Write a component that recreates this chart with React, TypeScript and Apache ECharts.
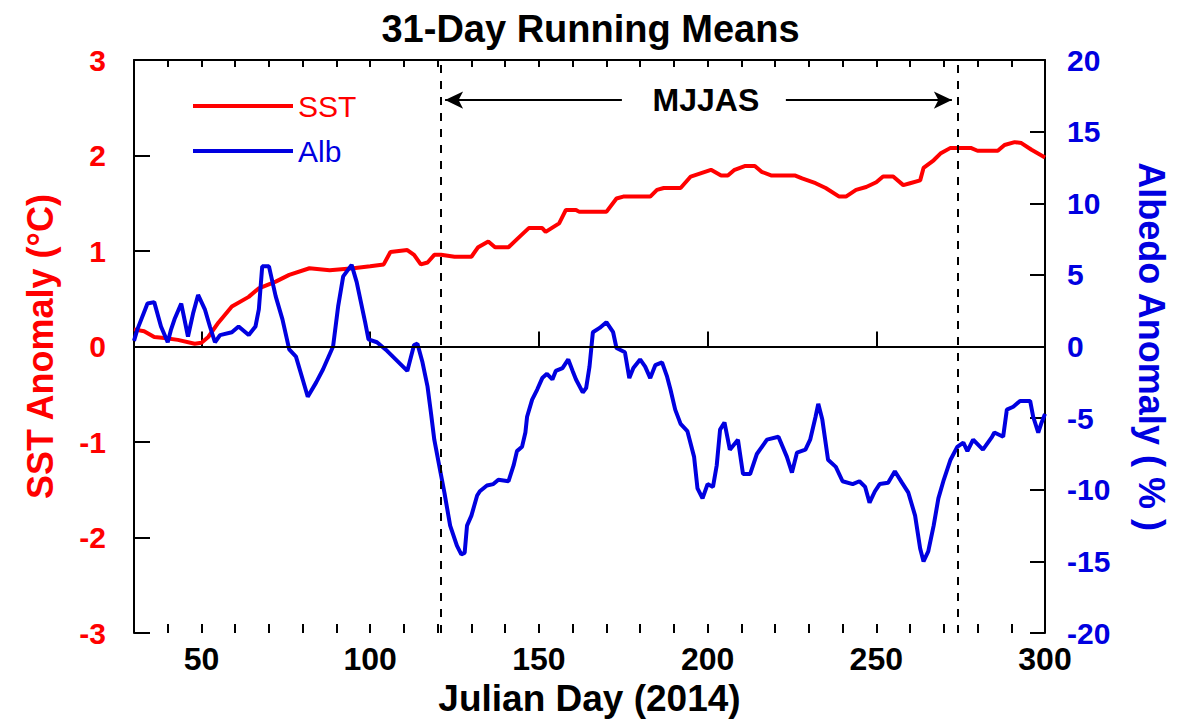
import React, { useEffect, useRef } from "react";
import * as echarts from "echarts";

const chartTitle = "31-Day Running Means";
const xTitle = "Julian Day (2014)";
const leftTitle = "SST Anomaly (°C)";
const rightTitle = "Albedo Anomaly ( % )";
const seasonLabel = "MJJAS";

const dayMin = 30;
const dayMax = 300;
const majorTickStep = 50;
const minorTickStep = 10;

const seasonStartDay = 121;
const seasonEndDay = 274;

const sstDays = [30, 33, 36, 39, 43, 48, 50, 52, 55, 59, 64, 67, 72, 76, 82, 88, 95, 100, 104, 106, 111, 113, 115, 117, 119, 121, 125, 130, 132, 135, 137, 141, 144, 147, 151, 152, 156, 158, 161, 162, 170, 173, 175, 183, 185, 187, 192, 195, 201, 204, 206, 208, 211, 214, 216, 219, 226, 228, 232, 235, 239, 241, 244, 247, 250, 252, 255, 258, 260, 263, 264, 267, 269, 272, 278, 280, 286, 288, 291, 293, 296, 300];
const sstValues = [0.18, 0.16, 0.10, 0.09, 0.07, 0.03, 0.04, 0.10, 0.25, 0.42, 0.52, 0.61, 0.68, 0.75, 0.82, 0.80, 0.82, 0.84, 0.86, 0.99, 1.01, 0.96, 0.86, 0.88, 0.96, 0.96, 0.94, 0.94, 1.04, 1.10, 1.04, 1.04, 1.14, 1.24, 1.24, 1.20, 1.29, 1.43, 1.43, 1.41, 1.41, 1.55, 1.57, 1.57, 1.64, 1.66, 1.66, 1.78, 1.85, 1.79, 1.79, 1.85, 1.89, 1.89, 1.83, 1.79, 1.79, 1.76, 1.71, 1.66, 1.57, 1.57, 1.64, 1.67, 1.72, 1.78, 1.78, 1.69, 1.71, 1.74, 1.87, 1.95, 2.02, 2.08, 2.08, 2.05, 2.05, 2.11, 2.14, 2.13, 2.06, 1.98];

const albDays = [30, 31, 34, 36, 38, 40, 41, 42, 44, 46, 47.5, 49, 51, 52.5, 54, 55.5, 59, 61, 64, 66, 67, 68, 70, 72, 74, 76, 78, 80, 81.5, 84, 86, 89, 90.5, 92, 94.5, 96, 98.5, 99.5, 102, 105, 108, 111, 113, 114, 115.5, 117, 118, 119, 120.7, 122, 123.7, 125.7, 127, 128, 128.7, 130, 131.7, 132.5, 134.6, 136.5, 138, 141, 142.5, 143.5, 145, 146, 146.5, 148, 149.5, 151, 152.4, 154, 155, 157, 158.7, 160, 161, 163, 164, 165, 166, 168, 170, 172, 173, 175.5, 176.8, 178, 180, 181.5, 183, 184.5, 186.5, 188, 189, 190.4, 192, 194, 196, 197, 198.5, 200, 201.6, 202.7, 203.7, 205, 206.6, 209, 210.5, 212.6, 214.6, 217.6, 221, 223.5, 225, 226.5, 229, 230.4, 232, 232.8, 234, 235.7, 238, 240, 243, 245, 246.7, 248, 249.6, 251, 253.5, 255.5, 257.6, 259.5, 261.5, 263, 264, 265.4, 267, 268.4, 270, 272, 274, 275.8, 277, 278.7, 281.6, 284.3, 285, 287.6, 288.7, 290.6, 292.6, 295.6, 296.5, 298, 299, 300];
const albValues = [0.4, 1.2, 3.0, 3.1, 1.4, 0.3, 1.2, 1.9, 3.0, 0.7, 2.3, 3.6, 2.6, 1.4, 0.3, 0.8, 1.0, 1.4, 0.8, 1.4, 2.6, 5.6, 5.6, 3.5, 1.9, -0.2, -0.7, -2.3, -3.5, -2.5, -1.6, 0, 2.8, 4.9, 5.7, 4.5, 1.7, 0.5, 0.3, -0.3, -1.0, -1.7, 0.1, 0.2, -1.1, -2.8, -4.6, -6.5, -8.6, -10.2, -12.5, -13.9, -14.5, -14.4, -12.5, -11.8, -10.4, -10.1, -9.7, -9.6, -9.3, -9.4, -8.3, -7.3, -7.0, -6.0, -4.9, -3.7, -3.0, -2.2, -1.9, -2.3, -1.7, -1.5, -0.9, -1.7, -2.3, -3.2, -2.9, -1.4, 1.0, 1.3, 1.7, 1.0, -0.1, -0.4, -2.2, -1.5, -0.9, -1.4, -2.2, -1.3, -1.1, -2.1, -3.0, -4.4, -5.4, -5.9, -7.7, -9.9, -10.6, -9.6, -9.8, -8.3, -5.8, -5.3, -7.2, -6.5, -8.9, -8.9, -7.5, -6.5, -6.3, -7.7, -8.8, -7.4, -7.2, -6.5, -4.9, -4.0, -5.1, -7.9, -8.4, -9.4, -9.6, -9.4, -9.8, -10.9, -10.1, -9.6, -9.5, -8.7, -9.5, -10.2, -11.8, -14.1, -15.0, -14.3, -12.5, -10.6, -9.3, -7.9, -7.0, -6.7, -7.3, -6.5, -7.2, -6.3, -6.0, -6.3, -4.4, -4.2, -3.8, -3.8, -4.9, -6.0, -5.3, -4.7];

// annotation positions in data units (day, SST anomaly)
const arrowLevel = 2.58;
const leftArrowFrom = 174.6;
const leftArrowTo = 122.2;
const rightArrowFrom = 223.2;
const rightArrowTo = 272.4;
const seasonLabelDay = 199.5;

const RED = "#ff0000";
const BLUE = "#0000e0";
const FONT = "'Liberation Sans', Arial, Helvetica, sans-serif";

export default function App() {
  const ref = useRef<HTMLDivElement>(null);
  useEffect(() => {
    if (!ref.current) return;
    const chart = echarts.init(ref.current, null, { renderer: "svg" });
    const sstData = sstDays.map((d, i) => [d, sstValues[i]]);
    const albData = albDays.map((d, i) => [d, albValues[i]]);
    // category days (for tick placement only)
    const tickDays: string[] = [];
    for (let d = dayMin; d <= dayMax; d++) tickDays.push(String(d));
    const isMajor = (_i: number, v: any) => Number(v) % majorTickStep === 0;
    const isMinor = (_i: number, v: any) => Number(v) % minorTickStep === 0 && Number(v) > dayMin && Number(v) < dayMax;
    const axisLine = { show: true, lineStyle: { color: "#000", width: 2 } };
    const tickLine = { color: "#000", width: 2 };
    chart.setOption({
      animation: false,
      backgroundColor: "#fff",
      textStyle: { fontFamily: FONT },
      title: {
        text: chartTitle,
        left: "center",
        top: 5,
        textStyle: { fontFamily: FONT, fontSize: 38, fontWeight: "bold", color: "#000" },
      },
      legend: {
        orient: "vertical",
        left: 188,
        top: 86,
        itemWidth: 100,
        itemHeight: 4,
        itemGap: 15,
        icon: "rect",
        data: [
          { name: "SST", textStyle: { color: RED } },
          { name: "Alb", textStyle: { color: BLUE } },
        ],
        textStyle: { fontFamily: FONT, fontSize: 30 },
      },
      grid: { left: 134, right: 136, top: 60, bottom: 87 },
      xAxis: [
        {
          type: "value",
          min: dayMin,
          max: dayMax,
          position: "bottom",
          axisLine,
          splitLine: { show: false },
          axisTick: { show: false },
          axisLabel: { show: false },
        },
        {
          type: "category",
          data: tickDays,
          boundaryGap: false,
          position: "bottom",
          axisLine: { show: false },
          splitLine: { show: false },
          axisTick: { show: true, inside: true, length: 15, interval: isMajor, lineStyle: tickLine },
          axisLabel: {
            interval: isMajor,
            margin: 10,
            fontFamily: FONT,
            fontSize: 32,
            fontWeight: "bold",
            color: "#000",
          },
          name: xTitle,
          nameLocation: "middle",
          nameGap: 44,
          nameTextStyle: { fontFamily: FONT, fontSize: 37, fontWeight: "bold", color: "#000" },
        },
        {
          type: "category",
          data: tickDays,
          boundaryGap: false,
          position: "bottom",
          axisLine: { show: false },
          splitLine: { show: false },
          axisTick: { show: true, inside: true, length: 9, interval: isMinor, lineStyle: tickLine },
          axisLabel: { show: false },
        },
        {
          type: "category",
          data: tickDays,
          boundaryGap: false,
          position: "top",
          axisLine,
          splitLine: { show: false },
          axisTick: { show: true, inside: true, length: 7, interval: isMinor, lineStyle: tickLine },
          axisLabel: { show: false },
        },
      ],
      yAxis: [
        {
          type: "value",
          min: -3,
          max: 3,
          interval: 1,
          position: "left",
          axisLine,
          splitLine: { show: false },
          axisTick: { show: true, inside: true, length: 16, lineStyle: tickLine },
          axisLabel: { margin: 28, fontFamily: FONT, fontSize: 30, fontWeight: "bold", color: RED },
          name: leftTitle,
          nameLocation: "middle",
          nameRotate: 90,
          nameGap: 76,
          nameTextStyle: { fontFamily: FONT, fontSize: 36, fontWeight: "bold", color: RED },
        },
        {
          type: "value",
          min: -20,
          max: 20,
          interval: 5,
          position: "right",
          axisLine,
          splitLine: { show: false },
          axisTick: { show: true, inside: true, length: 15, lineStyle: tickLine },
          axisLabel: { margin: 22, fontFamily: FONT, fontSize: 30, fontWeight: "bold", color: BLUE },
          name: rightTitle,
          nameLocation: "middle",
          nameRotate: -90,
          nameGap: 88,
          nameTextStyle: { fontFamily: FONT, fontSize: 36, fontWeight: "bold", color: BLUE },
        },
      ],
      series: [
        {
          name: "SST",
          type: "line",
          xAxisIndex: 0,
          yAxisIndex: 0,
          data: sstData,
          showSymbol: false,
          symbol: "none",
          color: RED,
          lineStyle: { color: RED, width: 4 },
          z: 3,
          markLine: {
            silent: true,
            symbol: ["none", "none"],
            label: { show: false },
            data: [
              { yAxis: 0, lineStyle: { color: "#000", width: 2, type: "solid" } },
              { xAxis: seasonStartDay, lineStyle: { color: "#000", width: 2, type: [8, 8] } },
              { xAxis: seasonEndDay, lineStyle: { color: "#000", width: 2, type: [8, 8] } },
              [
                { coord: [leftArrowFrom, arrowLevel], symbol: "none" },
                { coord: [leftArrowTo, arrowLevel], symbol: "arrow", symbolSize: [13, 18] },
              ],
              [
                { coord: [rightArrowFrom, arrowLevel], symbol: "none" },
                { coord: [rightArrowTo, arrowLevel], symbol: "arrow", symbolSize: [13, 18] },
              ],
            ].map((d: any) =>
              Array.isArray(d)
                ? d.map((p: any) => ({ ...p, lineStyle: { color: "#000", width: 2, type: "solid" } }))
                : d
            ),
          },
          markPoint: {
            silent: true,
            symbol: "rect",
            symbolSize: 1,
            itemStyle: { color: "rgba(0,0,0,0)" },
            label: {
              show: true,
              position: "inside",
              formatter: seasonLabel,
              fontFamily: FONT,
              fontSize: 32,
              fontWeight: "bold",
              color: "#000",
            },
            data: [{ coord: [seasonLabelDay, arrowLevel] }],
          },
        },
        {
          name: "Alb",
          type: "line",
          xAxisIndex: 0,
          yAxisIndex: 1,
          data: albData,
          showSymbol: false,
          symbol: "none",
          color: BLUE,
          lineStyle: { color: BLUE, width: 4 },
          z: 4,
        },
      ],
    });
    return () => chart.dispose();
  }, []);
  return (
    <div
      ref={ref}
      style={{ position: "fixed", left: 0, top: 0, width: 1181, height: 722, background: "#fff" }}
    />
  );
}
